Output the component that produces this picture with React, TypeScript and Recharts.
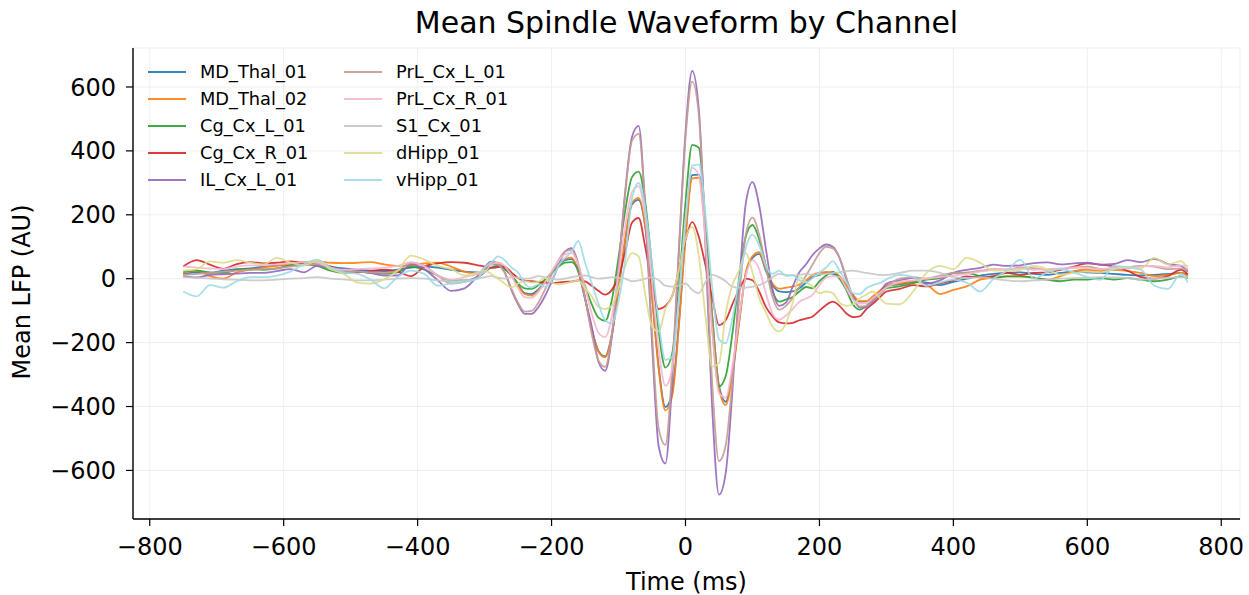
import React from "react";
import { LineChart, Line, XAxis, YAxis, CartesianGrid } from "recharts";

// time grid (ms): coarser at the flanks, 10 ms through the spindle
const timeMs = [
  -750, -730, -710, -690, -670, -650, -630, -610, -590, -570, -550, -530, -510, -490, -470, -450, -430, -410, -390, -370, -350, -330, -310,
  -300, -290, -280, -270, -260, -250, -240, -230, -220, -210,
  -200, -190, -180, -170, -160, -150, -140, -130, -120, -110,
  -100, -90, -80, -70, -60, -50, -40, -30, -20, -10,
  0, 10, 20, 30, 40, 50, 60, 70, 80, 90,
  100, 110, 120, 130, 140, 150, 160, 170, 180, 190,
  200, 210, 220, 230, 240, 250, 260, 270, 280, 290,
  300,
  320, 340, 360, 380, 400, 420, 440, 460, 480, 500, 520, 540, 560, 580, 600, 620, 640, 660, 680, 700, 720, 740, 750,
];

const mdThal01 = [
  15, 20, 18, 25, 30, 32, 38, 42, 45, 50, 45, 38, 32, 28, 25, 24, 28, 35, 38, 35, 28, 22, 20,
  25, 45, 45, 32, 10, -20, -45, -48, -34, -10,
  17, 42, 58, 61, 21, -63, -157, -226, -243, -175,
  -34, 121, 232, 247, 160, -52, -277, -402, -359, -142,
  136, 324, 326, 149, -118, -334, -385, -290, -135, 15,
  65, 78, 25, -20, -40, -42, -40, -30, -12, 5,
  12, 18, 15, 5, -20, -52, -72, -72, -58, -40,
  -22,
  -18, -10, -12, -20, -10, 0, 10, 15, 18, 20, 15, 12, 18, 22, 20, 18, 15, 12, 10, 12, 15, 18, 12,
];

const mdThal02 = [
  18, 25, 8, 0, 20, 28, 35, 40, 45, 52, 54, 50, 49, 50, 52, 45, 40, 42, 48, 50, 38, 22, 15,
  30, 52, 50, 35, 12, -22, -48, -53, -38, -12,
  18, 44, 62, 66, 24, -61, -158, -228, -246, -176,
  -33, 125, 237, 253, 163, -55, -283, -412, -369, -152,
  126, 314, 316, 139, -125, -342, -395, -300, -140, 20,
  70, 83, 30, -15, -31, -28, -25, -18, -5, 12,
  18, 21, 20, 8, -20, -50, -70, -70, -55, -38,
  -20,
  -15, -8, -18, -48, -35, -24, -3, 3, 7, 7, 3, -3, 8, 24, 28, 24, 28, 24, 18, 8, 12, 18, 8,
];

const cgCxL01 = [
  22, 25, 20, 18, 28, 30, 28, 32, 42, 45, 40, 25, 18, 22, 18, 16, 20, 38, 28, 10, -5, -5, 5,
  20, 35, 40, 30, 10, -15, -30, -32, -21, -3,
  18, 37, 50, 52, 28, -23, -80, -122, -132, -67,
  66, 213, 317, 335, 238, 39, -165, -278, -236, -28,
  238, 419, 410, 166, -155, -337, -305, -172, 0, 132,
  168, 123, 40, -40, -72, -65, -57, -40, -26, -30,
  -8, 10, 21, 0, -35, -80, -97, -85, -66, -48,
  -30,
  -24, -14, -3, 2, 18, 18, 8, 3, 7, 7, 3, -3, -8, -3, -3, 2, -3, 2, -3, -8, -3, 7, 2,
];

const cgCxR01 = [
  38, 58, 44, 31, 46, 52, 48, 50, 54, 50, 48, 38, 24, 20, 24, 28, 22, 8, 38, 48, 52, 50, 42,
  38, 34, 36, 37, 20, 2, -6, -8, -10, -12,
  -13, -12, -10, -9, -5, -8, -22, -38, -50, -35,
  5, 85, 175, 190, 98, -21, -95, -85, -55, 25,
  120, 178, 130, 40, -60, -145, -130, -80, -35, 0,
  -5, -40, -88, -118, -137, -140, -138, -130, -125, -118,
  -100, -82, -72, -85, -108, -120, -118, -95, -78, -58,
  -40,
  -32, -20, -24, -14, -5, 7, 4, 8, 18, 12, 18, 20, 28, 38, 48, 44, 38, 25, 5, 0, 8, 28, 14,
];

const ilCxL01 = [
  8, 4, 12, 14, 16, 18, 18, 24, 30, 20, 40, 32, 22, 24, 18, 10, 10, 45, 30, -5, -38, -30, 10,
  35, 53, 45, 20, -35, -80, -110, -110, -90, -55,
  -10, 40, 85, 96, 45, -60, -150, -260, -288, -183,
  33, 273, 443, 478, 215, -200, -525, -578, -324, 78,
  457, 650, 528, 93, -409, -676, -609, -353, -26, 235,
  302, 230, 94, -33, -85, -75, -25, 20, 45, 75,
  95, 107, 100, 65, 0, -55, -90, -90, -70, -45,
  -15,
  -5, 3, -15, -5, 18, 28, 34, 44, 40, 42, 49, 51, 45, 48, 50, 44, 46, 58, 52, 62, 46, 40, 22,
];

const prlCxL01 = [
  12, 15, 18, 22, 25, 28, 30, 32, 38, 42, 45, 35, 25, 22, 20, 18, 25, 50, 40, 10, -15, -10, 5,
  30, 50, 45, 20, -30, -75, -103, -101, -76, -35,
  13, 56, 85, 90, 42, -59, -173, -256, -276, -174,
  35, 266, 431, 453, 219, -167, -469, -520, -284, 88,
  440, 617, 509, 116, -331, -571, -522, -321, -64, 137,
  191, 138, 37, -58, -97, -85, -60, -25, 10, 45,
  80, 100, 95, 65, 5, -60, -87, -85, -65, -45,
  -25,
  0, 5, 0, 10, 18, 20, 25, 30, 28, 35, 33, 28, 30, 35, 38, 30, 28, 35, 40, 38, 30, 32, 30,
];

const prlCxR01 = [
  38, 35, 32, 30, 38, 42, 42, 45, 48, 52, 50, 35, 28, 30, 32, 35, 40, 52, 38, 10, -3, 5, 15,
  20, 45, 50, 40, 10, -30, -58, -60, -42, -12,
  23, 55, 76, 80, 45, -27, -109, -169, -183, -118,
  16, 165, 270, 290, 188, -13, -220, -335, -281, -68,
  187, 347, 324, 115, -164, -358, -372, -274, -124, 8,
  58, 30, -45, -110, -128, -115, -95, -72, -62, -50,
  -20, 3, 8, 5, -30, -65, -78, -76, -60, -45,
  -28,
  -10, -5, 0, 5, 10, 15, 22, 28, 30, 32, 28, 30, 32, 35, 33, 30, 35, 32, 38, 40, 35, 42, 40,
];

const s1Cx01 = [
  5, 3, 0, -2, -3, -5, -5, -3, 0, 2, 5, 0, -2, -5, -5, -3, 0, 2, 0, -5, -8, -5, 0,
  5, 8, 3, 0, 5, 3, 0, 2, 8, 5,
  0, -3, 0, 5, 8, 10, 5, 0, 2, 5,
  3, 0, -8, -5, 0, 5, -5, -22, -25, -22,
  -15, -35, -45, -10, 12, 5, -8, -25, -28, -28,
  -25, -20, -10, 5, 15, 12, 10, 12, 15, 12,
  14, 15, 18, 20, 24, 25, 22, 18, 15, 12,
  12,
  18, 25, 25, 18, 5, 2, 5, 0, -5, -8, -5, -3, 0, 2, 3, 5, 4, 2, -3, 0, 3, 5, 5,
];

const dHipp01 = [
  25, 30, 54, 50, 58, 50, 45, 65, 50, 42, 55, 30, 15, -12, -15, -2, 25, 72, 60, 40, 30, 10, 20,
  25, 15, 0, -15, -28, -15, -8, -12, -10, 3,
  -12, -18, -15, -10, -5, -30, -55, -88, -95, -85,
  -30, 40, 80, 70, -50, -150, -165, -95, -55, 25,
  125, 162, 70, -120, -275, -265, -110, -20, 25, 80,
  20, -60, -105, -150, -165, -140, -75, 5, -10, -25,
  -45, -40, -45, -75, -85, -80, -62, -50, -40, -60,
  -78,
  -80, -40, 18, 40, 30, 65, 50, 25, 25, 28, 40, 30, 12, 18, 22, 20, 30, 38, 32, 65, 45, 55, 30,
];

const vHipp01 = [
  -40, -55, -20, -28, -8, 5, 5, 10, 22, 45, 60, 35, 20, 15, -3, -30, 5, 25, 15, -22, -15, -10, 0,
  35, 50, 70, 58, 35, 20, -15, -28, -18, -25,
  -5, 40, 65, 85, 118, 50, -15, -78, -130, -140,
  -70, 60, 250, 300, 217, 46, -137, -254, -245, -70,
  179, 354, 357, 196, -29, -190, -202, -124, -7, 97,
  138, 105, 40, 15, 25, 8, 12, -5, -12, 2,
  20, 35, 55, 25, -10, -45, -48, -30, -20, -14,
  -2,
  12, 5, -22, -12, -3, -12, -40, 0, 25, 60, 0, 20, 30, 20, 5, -3, 40, 35, 28, -22, -32, 15, -12,
];

const xTicks = [-800, -600, -400, -200, 0, 200, 400, 600, 800];
const yTicks = [-600, -400, -200, 0, 200, 400, 600];

const channels = [
  { name: "MD_Thal_01", values: mdThal01, color: "#1f77b4" },
  { name: "MD_Thal_02", values: mdThal02, color: "#ff7f0e" },
  { name: "Cg_Cx_L_01", values: cgCxL01, color: "#2ca02c" },
  { name: "Cg_Cx_R_01", values: cgCxR01, color: "#d62728" },
  { name: "IL_Cx_L_01", values: ilCxL01, color: "#9467bd" },
  { name: "PrL_Cx_L_01", values: prlCxL01, color: "#c49c94" },
  { name: "PrL_Cx_R_01", values: prlCxR01, color: "#f7b6d2" },
  { name: "S1_Cx_01", values: s1Cx01, color: "#c7c7c7" },
  { name: "dHipp_01", values: dHipp01, color: "#dbdb8d" },
  { name: "vHipp_01", values: vHipp01, color: "#9edae5" },
];

const data = timeMs.map((t, i) => {
  const row: Record<string, number> = { t };
  channels.forEach((c) => {
    row[c.name] = c.values[i];
  });
  return row;
});

const font = "'DejaVu Sans', sans-serif";
const minus = (v: number) => (v < 0 ? "\u2212" + Math.abs(v) : String(v));

const Legend10 = () => (
  <div style={{ position: "absolute", left: 148, top: 58, fontFamily: font, fontSize: 17.8 }}>
    {channels.map((c, i) => {
      const col = Math.floor(i / 5);
      const row = i % 5;
      return (
        <div
          key={c.name}
          style={{
            position: "absolute",
            left: col * 196,
            top: row * 27,
            height: 27,
            display: "flex",
            alignItems: "center",
            whiteSpace: "nowrap",
          }}
        >
          <div style={{ width: 38, height: 2, background: c.color, opacity: 0.9 }} />
          <span style={{ marginLeft: 14, color: "#000" }}>{c.name}</span>
        </div>
      );
    })}
  </div>
);

export default function App() {
  return (
    <div
      style={{
        position: "absolute",
        left: 0,
        top: 0,
        width: 1249,
        height: 595,
        background: "#fff",
        fontFamily: font,
      }}
    >
      <div
        style={{
          position: "absolute",
          left: 133,
          width: 1107,
          top: 4,
          textAlign: "center",
          fontSize: 30,
          lineHeight: "38px",
          color: "#000",
        }}
      >
        Mean Spindle Waveform by Channel
      </div>
      <LineChart
        width={1249}
        height={595}
        data={data}
        margin={{ top: 48, right: 9, bottom: 0, left: 0 }}
      >
        <CartesianGrid stroke="#efefef" strokeWidth={1} />
        <XAxis
          dataKey="t"
          type="number"
          domain={[-825, 828]}
          ticks={xTicks}
          tickFormatter={minus}
          height={76}
          tickSize={7}
          tickMargin={12}
          axisLine={{ stroke: "#000", strokeWidth: 1.4 }}
          tickLine={{ stroke: "#000", strokeWidth: 1.2 }}
          tick={{ fontSize: 24, fill: "#000", fontFamily: font }}
          label={{
            value: "Time (ms)",
            position: "insideBottom",
            offset: 5,
            fontSize: 24,
            fill: "#000",
            fontFamily: font,
          }}
        />
        <YAxis
          type="number"
          domain={[-752, 722]}
          ticks={yTicks}
          tickFormatter={minus}
          width={133}
          tickSize={7}
          tickMargin={10}
          axisLine={{ stroke: "#000", strokeWidth: 1.4 }}
          tickLine={{ stroke: "#000", strokeWidth: 1.2 }}
          tick={{ fontSize: 24, fill: "#000", fontFamily: font }}
          label={{
            content: () => (
              <text
                x={22}
                y={292}
                transform="rotate(-90 22 292)"
                textAnchor="middle"
                dominantBaseline="central"
                fontSize={24}
                fontFamily={font}
                fill="#000"
              >
                Mean LFP (AU)
              </text>
            ),
          }}
        />
        {channels.map((c) => (
          <Line
            key={c.name}
            dataKey={c.name}
            type="monotone"
            stroke={c.color}
            strokeOpacity={0.9}
            strokeWidth={1.8}
            dot={false}
            isAnimationActive={false}
          />
        ))}
      </LineChart>
      <Legend10 />
    </div>
  );
}
